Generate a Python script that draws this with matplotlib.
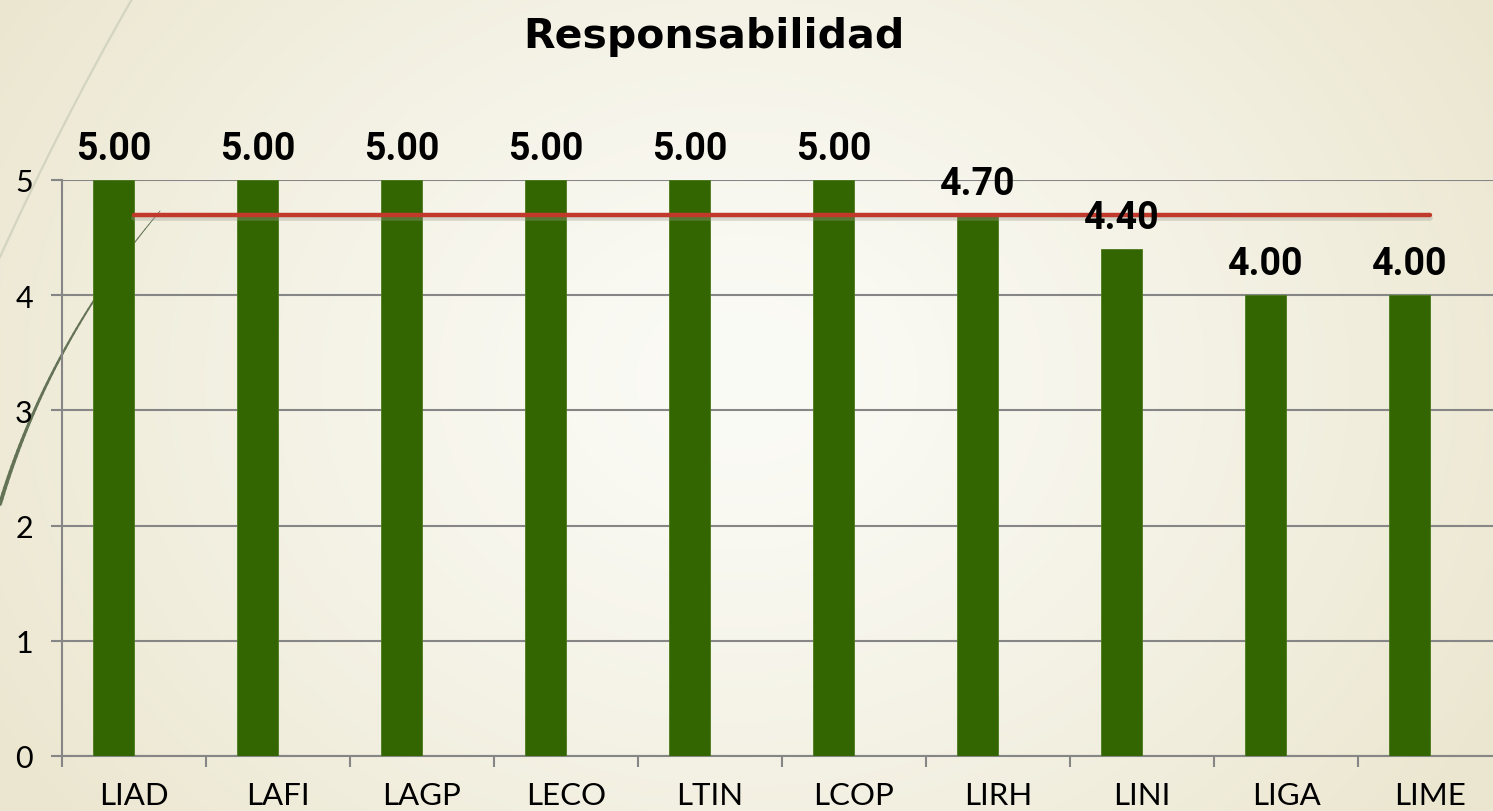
import numpy as np
import matplotlib
matplotlib.use("Agg")
import matplotlib.pyplot as plt
import matplotlib.transforms as mtrans
from matplotlib.collections import LineCollection

# ---- data ----
categories = ["LIAD", "LAFI", "LAGP", "LECO", "LTIN", "LCOP", "LIRH", "LINI", "LIGA", "LIME"]
values = [5.00, 5.00, 5.00, 5.00, 5.00, 5.00, 4.70, 4.40, 4.00, 4.00]
average = [4.70, 4.70, 4.70, 4.70, 4.70, 4.70, 4.70, 4.70, 4.70, 4.70]
title = "Responsabilidad"
yticks = [0, 1, 2, 3, 4, 5]

W, H = 1493, 812
fig = plt.figure(figsize=(W / 100, H / 100), dpi=100)

# ---- background (gradient + decorative curves) ----
bg = fig.add_axes([0, 0, 1, 1], zorder=-1)
bg.set_xlim(0, W)
bg.set_ylim(H, 0)
bg.axis("off")
yy, xx = np.mgrid[0:H, 0:W]
cx, cy = 740, 380
r = np.sqrt(((xx - cx) / 880.0) ** 2 + ((yy - cy) / 720.0) ** 2)
r = np.clip(r, 0, 1)
c_in = np.array([251, 251, 246]) / 255.0
c_out = np.array([235, 230, 207]) / 255.0
k = r[..., None] ** 1.3
img = c_in[None, None, :] * (1 - k) + c_out[None, None, :] * k
bg.imshow(img, extent=[0, W, H, 0], aspect="auto", interpolation="bilinear")

t = np.linspace(0, 1, 60)
# light decorative curve
p0, p1, p2 = np.array([132, 0]), np.array([62, 122]), np.array([0, 258])
cur = ((1 - t) ** 2)[:, None] * p0 + (2 * (1 - t) * t)[:, None] * p1 + (t ** 2)[:, None] * p2
bg.plot(cur[:, 0], cur[:, 1], color="#d4d5c0", lw=1.6)

# dark decorative curve (tapering)
p0, p1, p2 = np.array([0, 505]), np.array([48, 345]), np.array([160, 212])
cur = ((1 - t) ** 2)[:, None] * p0 + (2 * (1 - t) * t)[:, None] * p1 + (t ** 2)[:, None] * p2
segs = np.stack([cur[:-1], cur[1:]], axis=1)
widths = np.linspace(2.8, 0.6, len(segs))
bg.add_collection(LineCollection(segs, linewidths=widths, colors="#647355", capstyle="round"))

# ---- main chart ----
ax = fig.add_axes([62 / W, (H - 757) / H, 1440 / W, 576 / H])
ax.set_facecolor("none")
n = len(categories)
x = np.arange(n)
bw = 0.285
bar_x = x - bw / 2

ax.bar(bar_x, values, width=bw, color="#336600", edgecolor="#4a7a1c", linewidth=0.6, zorder=3)

# shadow + average line
shadow_tr = ax.transData + mtrans.ScaledTranslation(0, -3 / 100, fig.dpi_scale_trans)
ax.plot(x, average, color="#9a9a90", lw=4.0, alpha=0.35, zorder=3.5,
        solid_capstyle="round", transform=shadow_tr)
ax.plot(x, average, color="#c0392b", lw=3.2, zorder=4, solid_capstyle="round")

for xi, v in zip(bar_x, values):
    ax.annotate(f"{v:.2f}", (xi, v), xytext=(0, 15), textcoords="offset points",
                ha="center", va="baseline", fontsize=27, fontweight="bold",
                family=["Roboto", "DejaVu Sans"], color="black", zorder=6,
                annotation_clip=False)

ax.set_xlim(-0.5, n - 0.5)
ax.set_ylim(0, 5)
ax.set_yticks(yticks)
ax.set_yticklabels([str(v) for v in yticks])
ax.set_xticks(np.arange(n + 1) - 0.5)
ax.set_xticklabels([])
ax.set_xticks(x, minor=True)
ax.set_xticklabels(categories, minor=True)
ax.tick_params(axis="x", which="major", length=8, width=1.5, color="#868686", direction="out")
ax.tick_params(axis="x", which="minor", length=0, pad=18, labelsize=22.5)
ax.tick_params(axis="y", length=8, width=1.5, color="#868686", pad=13, labelsize=22)
for lab in ax.get_xticklabels(minor=True) + ax.get_yticklabels():
    lab.set_family(["Lato", "DejaVu Sans"])
    lab.set_fontweight("normal")
    lab.set_color("black")

ax.grid(axis="y", color="#868686", lw=1.5, zorder=1)
ax.set_axisbelow(True)
for s in ["top", "right"]:
    ax.spines[s].set_visible(False)
for s in ["left", "bottom"]:
    ax.spines[s].set_color("#868686")
    ax.spines[s].set_linewidth(1.5)

fig.text(714 / W, 1 - 37 / H, title, ha="center", va="center", fontsize=29.5,
         fontweight="bold", family="DejaVu Sans", color="black")

fig.savefig("out.png", dpi=100)
